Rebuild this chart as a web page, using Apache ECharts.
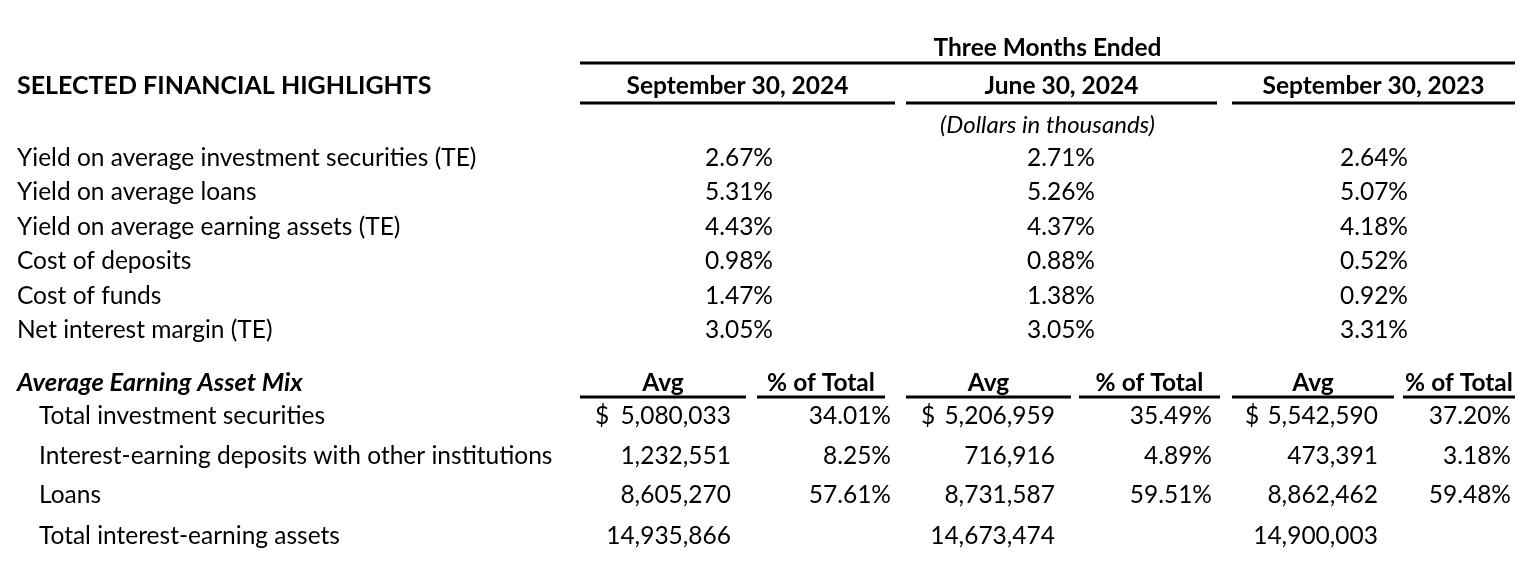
<!DOCTYPE html>
<html>
<head>
<meta charset="utf-8">
<script src="https://cdn.jsdelivr.net/npm/echarts@6/dist/echarts.min.js"></script>
<style>
    html, body { margin: 0; padding: 0; background: #fff; }
    #chart { width: 1535px; height: 576px; }
</style>
</head>
<body>
<div id="chart"></div>
<script>
    // ---- table content ----
    var tableTitle = 'SELECTED FINANCIAL HIGHLIGHTS';
    var periodTitle = 'Three Months Ended';
    var periods = ['September 30, 2024', 'June 30, 2024', 'September 30, 2023'];
    var unitNote = '(Dollars in thousands)';

    var ratioLabels = [
        'Yield on average investment securities (TE)',
        'Yield on average loans',
        'Yield on average earning assets (TE)',
        'Cost of deposits',
        'Cost of funds',
        'Net interest margin (TE)'
    ];
    var ratiosSep2024 = [2.67, 5.31, 4.43, 0.98, 1.47, 3.05];
    var ratiosJun2024 = [2.71, 5.26, 4.37, 0.88, 1.38, 3.05];
    var ratiosSep2023 = [2.64, 5.07, 4.18, 0.52, 0.92, 3.31];

    var mixTitle = 'Average Earning Asset Mix';
    var mixHeaders = ['Avg', '% of Total'];
    var mixLabels = [
        'Total investment securities',
        'Interest-earning deposits with other institutions',
        'Loans',
        'Total interest-earning assets'
    ];
    var avgSep2024 = [5080033, 1232551, 8605270, 14935866];
    var pctSep2024 = [34.01, 8.25, 57.61, null];
    var avgJun2024 = [5206959, 716916, 8731587, 14673474];
    var pctJun2024 = [35.49, 4.89, 59.51, null];
    var avgSep2023 = [5542590, 473391, 8862462, 14900003];
    var pctSep2023 = [37.20, 3.18, 59.48, null];

    // ---- layout (pixel scale of the hidden axes) ----
    var W = 1535, H = 576;
    var labelX = 17, mixLabelX = 39;
    var ratioRowY = [158, 192, 227, 261, 296, 330];
    var mixRowY = [416, 456, 495, 536];
    var periodSpan = [[580, 895], [906, 1217], [1232, 1515]];
    var ratioRight = [773, 1095, 1408];
    var mixSpan = [[580, 746], [757, 885], [906, 1071], [1079, 1220], [1232, 1394], [1403, 1515]];
    var dollarX = [595, 921, 1245];
    var avgRight = [731, 1055, 1378];
    var pctRight = [891, 1212, 1511];

    var FONT = 'Lato, "Open Sans", sans-serif';

    function fmtPct(v) { return v.toFixed(2) + '%'; }
    function fmtNum(v) { return v.toLocaleString('en-US'); }

    // cells: [x, y, text, align, style]
    var cells = [];
    var rules = [];
    cells.push([labelX, 86, tableTitle, 'left', 'title']);
    cells.push([(580 + 1515) / 2, 48, periodTitle, 'center', 'head']);
    rules.push([580, 1515, 63]);
    periods.forEach(function (p, i) {
        var s = periodSpan[i];
        cells.push([(s[0] + s[1]) / 2, 86, p, 'center', 'head']);
        rules.push([s[0], s[1], 103]);
    });
    cells.push([(580 + 1515) / 2, 125, unitNote, 'center', 'note']);

    var ratioCols = [ratiosSep2024, ratiosJun2024, ratiosSep2023];
    ratioLabels.forEach(function (lab, r) {
        cells.push([labelX, ratioRowY[r], lab, 'left', 'body']);
        ratioCols.forEach(function (col, c) {
            cells.push([ratioRight[c], ratioRowY[r], fmtPct(col[r]), 'right', 'body']);
        });
    });

    cells.push([labelX, 383, mixTitle, 'left', 'mixTitle']);
    mixSpan.forEach(function (s, i) {
        cells.push([(s[0] + s[1]) / 2, 383, mixHeaders[i % 2], 'center', 'head']);
        rules.push([s[0], s[1], 397]);
    });
    var avgCols = [avgSep2024, avgJun2024, avgSep2023];
    var pctCols = [pctSep2024, pctJun2024, pctSep2023];
    mixLabels.forEach(function (lab, r) {
        cells.push([mixLabelX, mixRowY[r], lab, 'left', 'body']);
        avgCols.forEach(function (col, c) {
            if (r === 0) cells.push([dollarX[c], mixRowY[r], '$', 'left', 'body']);
            cells.push([avgRight[c], mixRowY[r], fmtNum(col[r]), 'right', 'body']);
            var p = pctCols[c][r];
            if (p != null) cells.push([pctRight[c], mixRowY[r], fmtPct(p), 'right', 'body']);
        });
    });

    var styles = {
        title: { fontSize: 25, fontWeight: 'bold', fontStyle: 'normal' },
        head: { fontSize: 24.5, fontWeight: 'bold', fontStyle: 'normal' },
        mixTitle: { fontSize: 25.5, fontWeight: 'bold', fontStyle: 'italic' },
        note: { fontSize: 24, fontWeight: 'normal', fontStyle: 'italic' },
        body: { fontSize: 24.5, fontWeight: 'normal', fontStyle: 'normal' }
    };

    var chart = echarts.init(document.getElementById('chart'));
    var option = {
        backgroundColor: '#ffffff',
        animation: false,
        grid: { left: 0, right: 0, top: 0, bottom: 0 },
        xAxis: { type: 'value', min: 0, max: W, show: false },
        yAxis: { type: 'value', min: 0, max: H, inverse: true, show: false },
        series: [{
            type: 'custom',
            silent: true,
            data: cells.map(function (c) { return [c[0], c[1]]; }),
            renderItem: function (params, api) {
                var c = cells[params.dataIndex];
                var pt = api.coord([api.value(0), api.value(1)]);
                var st = styles[c[4]];
                return {
                    type: 'text',
                    x: pt[0], y: pt[1],
                    style: {
                        text: c[2],
                        fill: '#000',
                        font: st.fontStyle + ' ' + st.fontWeight + ' ' + st.fontSize + 'px ' + FONT,
                        align: c[3],
                        verticalAlign: 'middle'
                    }
                };
            }
        }, {
            type: 'custom',
            silent: true,
            data: rules,
            renderItem: function (params, api) {
                var a = api.coord([api.value(0), api.value(2)]);
                var b = api.coord([api.value(1), api.value(2)]);
                return {
                    type: 'line',
                    shape: { x1: a[0], y1: a[1], x2: b[0], y2: b[1] },
                    style: { stroke: '#000', lineWidth: 3 }
                };
            }
        }]
    };
    chart.setOption(option);
</script>
</body>
</html>
